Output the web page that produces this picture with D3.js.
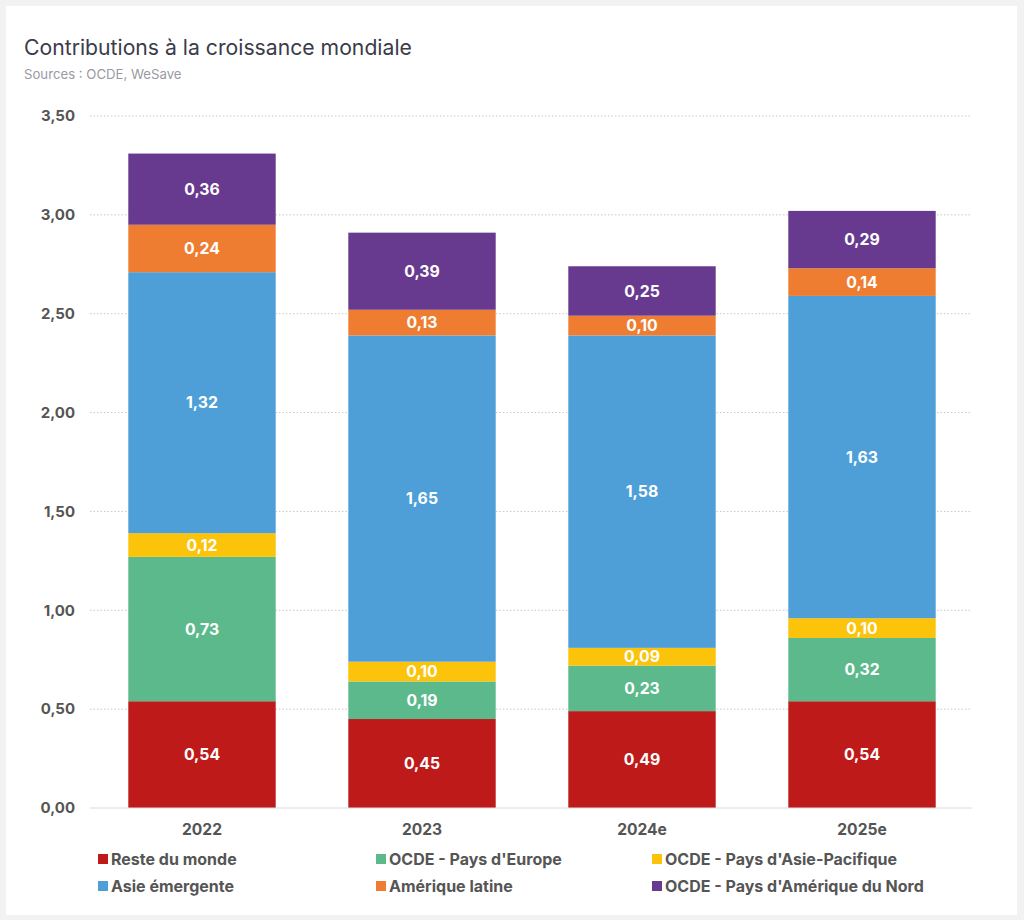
<!DOCTYPE html>
<html><head><meta charset="utf-8">
<script src="https://cdn.jsdelivr.net/npm/d3@7"></script>
<style>
html,body{margin:0;padding:0;background:#f2f2f2;}
svg{display:block;}
text{font-family:Inter,"Noto Sans",sans-serif;}
</style></head>
<body>
<svg id="chart" width="1024" height="920"></svg>
<script>
const categories = ["2022", "2023", "2024e", "2025e"];
const seriesNames = ["Reste du monde", "OCDE - Pays d'Europe", "OCDE - Pays d'Asie-Pacifique", "Asie émergente", "Amérique latine", "OCDE - Pays d'Amérique du Nord"];
const resteDuMonde = [0.54, 0.45, 0.49, 0.54];
const ocdeEurope = [0.73, 0.19, 0.23, 0.32];
const ocdeAsiePacifique = [0.12, 0.10, 0.09, 0.10];
const asieEmergente = [1.32, 1.65, 1.58, 1.63];
const ameriqueLatine = [0.24, 0.13, 0.10, 0.14];
const ocdeAmeriqueNord = [0.36, 0.39, 0.25, 0.29];
const yTicks = [0, 0.5, 1, 1.5, 2, 2.5, 3, 3.5];
const colors = ["#be1a1a", "#5bb98c", "#fcc30b", "#4e9fd8", "#ee7d31", "#673a8f"];

const seriesValues = [resteDuMonde, ocdeEurope, ocdeAsiePacifique, asieEmergente, ameriqueLatine, ocdeAmeriqueNord];
const keys = seriesNames;
const table = categories.map((c, i) => {
  const row = {cat: c};
  keys.forEach((k, j) => row[k] = seriesValues[j][i]);
  return row;
});
const stacked = d3.stack().keys(keys)(table);

const svg = d3.select("#chart");
svg.append("rect").attr("x", 6).attr("y", 6).attr("width", 1011).attr("height", 909).attr("fill", "#fff");

svg.append("text").attr("x", 24).attr("y", 55).attr("font-size", 21.2).attr("fill", "#3b3b4a")
  .text("Contributions à la croissance mondiale");
svg.append("text").attr("x", 24).attr("y", 79).attr("font-size", 13.2).attr("fill", "#9a9aa2")
  .text("Sources : OCDE, WeSave");

const x = d3.scaleBand().domain(categories).range([92, 972]).paddingInner(0.33).paddingOuter(0.165);
const y = d3.scaleLinear().domain([0, 3.5]).range([808, 116]);

const fmt = v => d3.format(".2f")(v).replace(".", ",");

const grid = svg.append("g");
grid.selectAll("line").data(yTicks.filter(t => t > 0)).join("line")
  .attr("x1", 90).attr("x2", 972).attr("y1", d => y(d)).attr("y2", d => y(d))
  .attr("stroke", "#c8c8cc").attr("stroke-width", 1).attr("stroke-dasharray", "1.5,2");

const yAxis = d3.axisLeft(y).tickValues(yTicks).tickFormat(fmt).tickSize(0).tickPadding(0);
const yg = svg.append("g").attr("transform", "translate(75,0)").call(yAxis);
yg.select(".domain").remove();
yg.selectAll("text").attr("font-size", 15).attr("font-weight", 700).attr("fill", "#555")
  .attr("font-family", "Inter, 'Noto Sans', sans-serif");

const layers = svg.append("g").selectAll("g").data(stacked).join("g")
  .attr("fill", (d, i) => colors[i]);
layers.selectAll("rect").data(d => d).join("rect")
  .attr("x", d => x(d.data.cat)).attr("width", x.bandwidth())
  .attr("y", d => y(d[1])).attr("height", d => y(d[0]) - y(d[1]));
layers.selectAll("text").data(d => d.map(p => ({p, key: d.key}))).join("text")
  .attr("x", d => x(d.p.data.cat) + x.bandwidth() / 2)
  .attr("y", d => (y(d.p[0]) + y(d.p[1])) / 2)
  .attr("dy", "0.36em").attr("text-anchor", "middle")
  .attr("font-size", 15.8).attr("font-weight", 700).attr("fill", "#fff")
  .text(d => fmt(d.p.data[d.key]));

svg.append("line").attr("x1", 90).attr("x2", 972).attr("y1", y(0)).attr("y2", y(0))
  .attr("stroke", "#dcdcdc").attr("stroke-width", 1);

const xAxis = d3.axisBottom(x).tickSize(0).tickPadding(0);
const xg = svg.append("g").attr("transform", "translate(0,835)").call(xAxis);
xg.select(".domain").remove();
xg.selectAll("text").attr("font-size", 15.6).attr("font-weight", 700).attr("fill", "#555")
  .attr("dy", 0).attr("font-family", "Inter, 'Noto Sans', sans-serif");

const legendX = [98, 376, 652];
const legendY = [859, 886];
const lg = svg.append("g").selectAll("g").data(seriesNames).join("g")
  .attr("transform", (d, i) => `translate(${legendX[i % 3]},${legendY[Math.floor(i / 3)]})`);
lg.append("rect").attr("x", 0).attr("y", -5).attr("width", 10).attr("height", 10)
  .attr("fill", (d, i) => colors[i]);
lg.append("text").attr("x", 13).attr("y", 0).attr("dy", "0.36em")
  .attr("font-size", 16).attr("font-weight", 700).attr("fill", "#555").text(d => d);
</script>
</body></html>
